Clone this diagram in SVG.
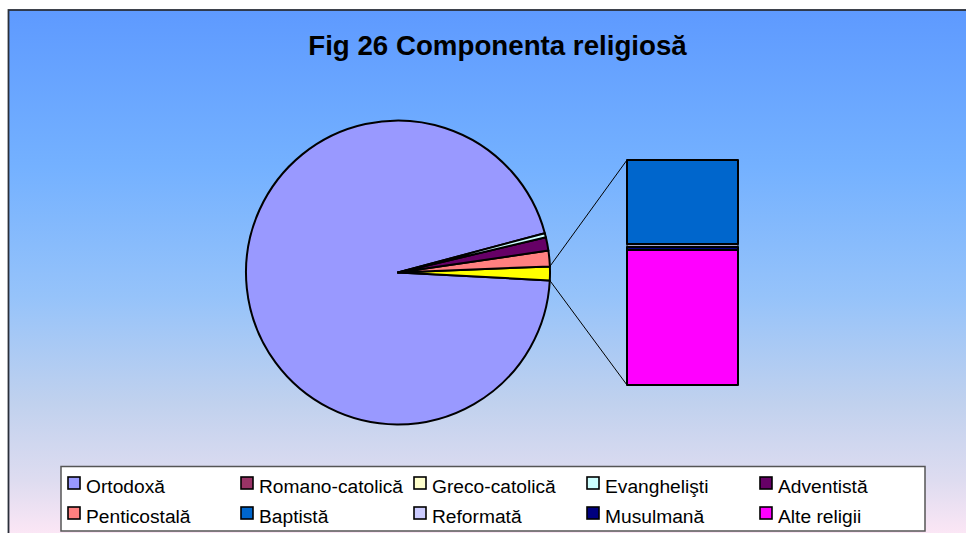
<svg xmlns="http://www.w3.org/2000/svg" width="966" height="533" viewBox="0 0 966 533">
<defs>
<linearGradient id="bg" gradientUnits="userSpaceOnUse" x1="0" y1="10" x2="0" y2="533">
<stop offset="0" stop-color="#5E9AFF"/>
<stop offset="0.3" stop-color="#74B1FF"/>
<stop offset="0.55" stop-color="#96C3FA"/>
<stop offset="0.75" stop-color="#C0D1EE"/>
<stop offset="0.9" stop-color="#DEDCF0"/>
<stop offset="1" stop-color="#FBE6F5"/>
</linearGradient>
</defs>
<style>
.t{font-family:"Liberation Sans",Arial,sans-serif;fill:#000}
.title{font-size:27.7px;font-weight:bold}
.lg{font-size:19.2px}
.sl{stroke:#000;stroke-width:2;stroke-linejoin:round}
.thin{stroke:#000;stroke-width:1}
.sq{stroke:#000;stroke-width:1.6}
.con{stroke:#000;stroke-width:1;fill:none}
</style>
<rect x="0" y="0" width="966" height="533" fill="#fff"/>
<rect x="8.5" y="10" width="970" height="540" fill="url(#bg)" stroke="#2a2f3a" stroke-width="1.8"/>
<text class="t title" x="497.5" y="55" text-anchor="middle">Fig 26 Componenta religiosă</text>

<g id="pie">
<path id="ortodoxa" class="sl" fill="#9999FF" d="M398,272.5 L544.82,233.16 A152,152 0 1 0 549.79,280.46 Z"/>
<path id="alte-slice" class="sl" fill="#FFFF00" d="M398,272.5 L549.79,280.46 A152,152 0 0 0 549.88,266.40 Z"/>
<path id="penticostala" class="sl" fill="#FF8080" d="M398,272.5 L549.88,266.40 A152,152 0 0 0 548.41,250.56 Z"/>
<path id="adventista" class="sl" fill="#660066" d="M398,272.5 L548.41,250.56 A152,152 0 0 0 545.86,237.27 Z"/>
<path id="evanghelisti" class="sl" fill="#CCFFFF" d="M398,272.5 L545.86,237.27 A152,152 0 0 0 544.82,233.16 Z"/>
</g>

<g id="connectors">
<line class="con" x1="549.88" y1="266.4" x2="627" y2="160"/>
<line class="con" x1="549.79" y1="280.46" x2="627" y2="385"/>
</g>

<g id="bar">
<rect id="baptista" class="sl" fill="#0066CC" x="627" y="160" width="111" height="84"/>
<rect id="reformata" class="thin" fill="#CCCCFF" x="627" y="244.5" width="111" height="1.8"/>
<rect id="musulmana" class="sl" fill="#000080" x="627" y="247" width="111" height="3"/>
<rect id="alte" class="sl" fill="#FF00FF" x="627" y="250" width="111" height="135"/>
</g>

<g id="legend">
<rect x="61" y="466.5" width="864" height="64.5" fill="#fff" stroke="#555" stroke-width="1.5"/>
<rect class="sq" x="68" y="477" width="12" height="12" fill="#9999FF"/>
<text class="t lg" x="86" y="492.5">Ortodoxă</text>
<rect class="sq" x="241" y="477" width="12" height="12" fill="#993366"/>
<text class="t lg" x="259" y="492.5">Romano-catolică</text>
<rect class="sq" x="414" y="477" width="12" height="12" fill="#FFFFCC"/>
<text class="t lg" x="432" y="492.5">Greco-catolică</text>
<rect class="sq" x="587" y="477" width="12" height="12" fill="#CCFFFF"/>
<text class="t lg" x="605" y="492.5">Evanghelişti</text>
<rect class="sq" x="760" y="477" width="12" height="12" fill="#660066"/>
<text class="t lg" x="778" y="492.5">Adventistă</text>
<rect class="sq" x="68" y="507" width="12" height="12" fill="#FF8080"/>
<text class="t lg" x="86" y="522.5">Penticostală</text>
<rect class="sq" x="241" y="507" width="12" height="12" fill="#0066CC"/>
<text class="t lg" x="259" y="522.5">Baptistă</text>
<rect class="sq" x="414" y="507" width="12" height="12" fill="#CCCCFF"/>
<text class="t lg" x="432" y="522.5">Reformată</text>
<rect class="sq" x="587" y="507" width="12" height="12" fill="#000080"/>
<text class="t lg" x="605" y="522.5">Musulmană</text>
<rect class="sq" x="760" y="507" width="12" height="12" fill="#FF00FF"/>
<text class="t lg" x="778" y="522.5">Alte religii</text>
</g>
</svg>
